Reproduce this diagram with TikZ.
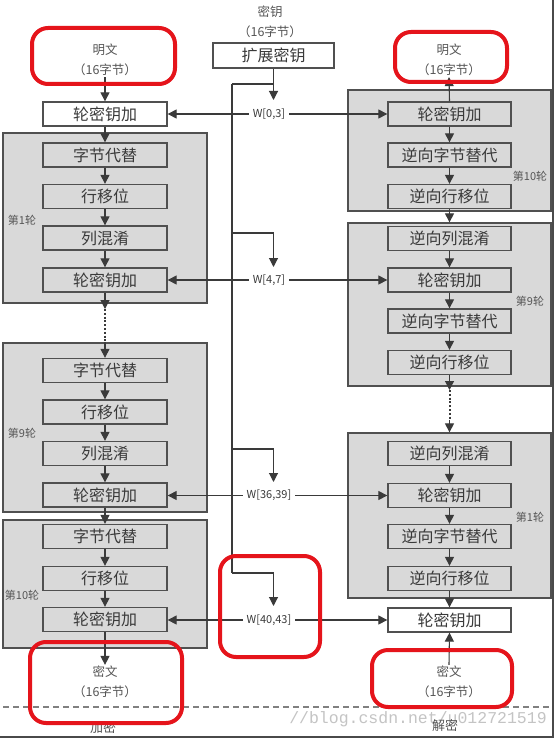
\documentclass[tikz,border=0pt]{standalone}
\usepackage{fontspec}
\setmainfont{Noto Sans CJK SC}
\newfontfamily\wmfont{Liberation Mono}
\usetikzlibrary{arrows.meta}
\definecolor{panelgray}{HTML}{D9D9D9}
\definecolor{edge}{HTML}{505050}
\definecolor{ink}{HTML}{3A3A3A}
\definecolor{soft}{HTML}{555555}
\definecolor{redline}{HTML}{E5141B}
\definecolor{wmark}{HTML}{C4C4C4}
\definecolor{frame}{HTML}{4A4A4A}
\begin{document}
\begin{tikzpicture}[x=1pt,y=-1pt,
  stepbox/.style={draw=edge, line width=1.3pt, minimum width=124pt, minimum height=24pt, inner sep=0pt, font=\fontsize{16}{16}\selectfont, text=ink},
  gbox/.style={stepbox, fill=panelgray},
  wbox/.style={stepbox, fill=white},
  panel/.style={draw=edge, line width=1.3pt, fill=panelgray, inner sep=0pt},
  arr/.style={draw=ink, line width=1.1pt, -{Triangle[length=9pt,width=9pt]}},
  ln/.style={draw=ink, line width=1.1pt},
  dots/.style={draw=ink, line width=2pt, dash pattern=on 2pt off 1.8pt},
  small/.style={font=\fontsize{12.5}{20}\selectfont, text=soft, align=center, inner sep=1pt},
  rnd/.style={font=\fontsize{11}{11}\selectfont, text=soft},
  wlbl/.style={font=\fontsize{11}{11}\selectfont, text=ink, fill=white, inner sep=4pt},
  redbox/.style={draw=redline, line width=4pt, rounded corners=16pt, inner sep=0pt},
]
\useasboundingbox (0,0) rectangle (558,741);
\fill[white] (0,0) rectangle (558,741);

% watermark and bottom texts
\node[font=\wmfont\fontsize{16.5}{16.5}\selectfont, text=wmark] (wm) at (418,719) {//blog.csdn.net/u012721519};
\draw[draw=gray, line width=1.2pt, dash pattern=on 6pt off 4pt] (3,707) coordinate (da) -- (553,707) coordinate (db);
\node[small, font=\fontsize{13}{13}\selectfont] (enc) at (103,727) {加密};
\node[small, font=\fontsize{13}{13}\selectfont] (dec) at (445,726) {解密};

% panels
\node[panel, minimum width=204pt, minimum height=170pt] (P1) at (105,218) {};
\node[panel, minimum width=204pt, minimum height=169pt] (P2) at (105,427.5) {};
\node[panel, minimum width=204pt, minimum height=128pt] (P3) at (105,584) {};
\node[panel, minimum width=203pt, minimum height=121pt] (Q10) at (449.5,150.5) {};
\node[panel, minimum width=203pt, minimum height=163pt] (Q9) at (449.5,304.5) {};
\node[panel, minimum width=203pt, minimum height=165pt] (Q1) at (449.5,515.5) {};

\node[rnd] (rl1) at (22,220) {第1轮};
\node[rnd] (rl9) at (22,433) {第9轮};
\node[rnd] (rl10) at (22,595) {第10轮};
\node[rnd] (rr10) at (530,176) {第10轮};
\node[rnd] (rr9) at (530,301) {第9轮};
\node[rnd] (rr1) at (530,517) {第1轮};

% top texts
\node[small] (m1) at (105,60) {明文\\（16字节）};
\node[small] (m2) at (449,60) {明文\\（16字节）};
\node[small] (k1) at (270,22) {密钥\\（16字节）};
\node[small] (c1) at (105,682) {密文\\（16字节）};
\node[small] (c2) at (449,682) {密文\\（16字节）};

% left column
\node[wbox] (L0) at (105,114) {轮密钥加};
\node[gbox] (L1a) at (105,155) {字节代替};
\node[gbox] (L1b) at (105,196.5) {行移位};
\node[gbox] (L1c) at (105,238) {列混淆};
\node[gbox] (L1d) at (105,280) {轮密钥加};
\node[gbox] (L2a) at (105,370.5) {字节代替};
\node[gbox] (L2b) at (105,412) {行移位};
\node[gbox] (L2c) at (105,453.5) {列混淆};
\node[gbox] (L2d) at (105,495) {轮密钥加};
\node[gbox] (L3a) at (105,536.5) {字节代替};
\node[gbox] (L3b) at (105,578.5) {行移位};
\node[gbox] (L3c) at (105,619.5) {轮密钥加};

% right column
\node[gbox, minimum width=123pt] (R0) at (449.5,114) {轮密钥加};
\node[gbox, minimum width=123pt] (R10b) at (449.5,155) {逆向字节替代};
\node[gbox, minimum width=123pt] (R10c) at (449.5,196.5) {逆向行移位};
\node[gbox, minimum width=123pt] (R9a) at (449.5,238.5) {逆向列混淆};
\node[gbox, minimum width=123pt] (R9b) at (449.5,280) {轮密钥加};
\node[gbox, minimum width=123pt] (R9c) at (449.5,321) {逆向字节替代};
\node[gbox, minimum width=123pt] (R9d) at (449.5,362.5) {逆向行移位};
\node[gbox, minimum width=123pt] (R1a) at (449.5,453.5) {逆向列混淆};
\node[gbox, minimum width=123pt] (R1b) at (449.5,495.5) {轮密钥加};
\node[gbox, minimum width=123pt] (R1c) at (449.5,536.5) {逆向字节替代};
\node[gbox, minimum width=123pt] (R1d) at (449.5,578.5) {逆向行移位};
\node[wbox, minimum width=123pt] (RF) at (449.5,620) {轮密钥加};

% key column
\node[wbox, minimum width=121pt, minimum height=25pt] (key) at (273.5,55.5) {扩展密钥};
\coordinate (t0) at (273.5,100);
\coordinate (j0) at (232,84);
\coordinate (j1) at (232,233);
\coordinate (j2) at (232,449);
\coordinate (j3) at (232,573);
\coordinate (t1) at (273.5,267);
\coordinate (t2) at (273.5,482);
\coordinate (t3) at (273.5,606);
\draw[ln] (j0) -- (j3);
\draw[ln] (j0) -- (j0 -| key.south);
\draw[arr] (key.south) -- (t0);
\draw[arr] (j1) -| (t1);
\draw[arr] (j2) -| (t2);
\draw[arr] (j3) -| (t3);

\node[wlbl] (w0) at (269,114) {W[0,3]};
\node[wlbl] (w1) at (269,280) {W[4,7]};
\node[wlbl] (w2) at (269,495.5) {W[36,39]};
\node[wlbl] (w3) at (269,620) {W[40,43]};

\draw[arr] (w0.west) -- (w0.west -| L0.east);
\draw[arr] (w0.east) -- (w0.east -| R0.west);
\draw[arr] (w1.west) -- (w1.west -| L1d.east);
\draw[arr] (w1.east) -- (w1.east -| R9b.west);
\draw[arr] (w2.west) -- (w2.west -| L2d.east);
\draw[arr] (w2.east) -- (w2.east -| R1b.west);
\draw[arr] (w3.west) -- (w3.west -| L3c.east);
\draw[arr] (w3.east) -- (w3.east -| RF.west);

% left flow
\draw[arr] (m1.south) -- (L0.north);
\draw[arr] (L0.south) -- (L1a.north);
\draw[arr] (L1a.south) -- (L1b.north);
\draw[arr] (L1b.south) -- (L1c.north);
\draw[arr] (L1c.south) -- (L1d.north);
\coordinate (d1) at (105,309);
\draw[arr] (L1d.south) -- (d1);
\draw[dots] (d1) -- (P2.north);
\draw[arr] (P2.north) -- (L2a.north);
\draw[arr] (L2a.south) -- (L2b.north);
\draw[arr] (L2b.south) -- (L2c.north);
\draw[arr] (L2c.south) -- (L2d.north);
\draw[arr] (L2d.south) -- (L3a.north);
\draw[arr] (L3a.south) -- (L3b.north);
\draw[arr] (L3b.south) -- (L3c.north);
\draw[arr] (L3c.south) -- (c1.north);

% right flow
\draw[arr] (R0.north) -- (m2.south);
\draw[arr] (R0.south) -- (R10b.north);
\draw[arr] (R10b.south) -- (R10c.north);
\draw[arr] (R10c.south) -- (Q9.north);
\draw[arr] (R9a.south) -- (R9b.north);
\draw[arr] (R9b.south) -- (R9c.north);
\draw[arr] (R9c.south) -- (R9d.north);
\coordinate (d2) at (449.5,390);
\coordinate (d3) at (449.5,420);
\draw[arr] (R9d.south) -- (d2);
\draw[dots] (d2) -- (d3);
\draw[arr] (d3) -- (Q1.north);
\draw[arr] (R1a.south) -- (R1b.north);
\draw[arr] (R1b.south) -- (R1c.north);
\draw[arr] (R1c.south) -- (R1d.north);
\draw[arr] (R1d.south) -- (RF.north);
\draw[arr] (c2.north) -- (RF.south);

% frame
\draw[draw=frame, line width=2.5pt] (553,0) coordinate (fa) -- (553,737) coordinate (fb) -- (0,737) coordinate (fc);

% red highlights
\node[redbox, minimum width=143pt, minimum height=56pt] (h1) at (103.5,56) {};
\node[redbox, minimum width=112pt, minimum height=50pt] (h2) at (451,57) {};
\node[redbox, minimum width=152pt, minimum height=81pt] (h3) at (106,682.5) {};
\node[redbox, minimum width=140pt, minimum height=57pt] (h4) at (442,678.5) {};
\node[redbox, minimum width=100pt, minimum height=101pt] (h5) at (270,606.5) {};
\end{tikzpicture}
\end{document}
